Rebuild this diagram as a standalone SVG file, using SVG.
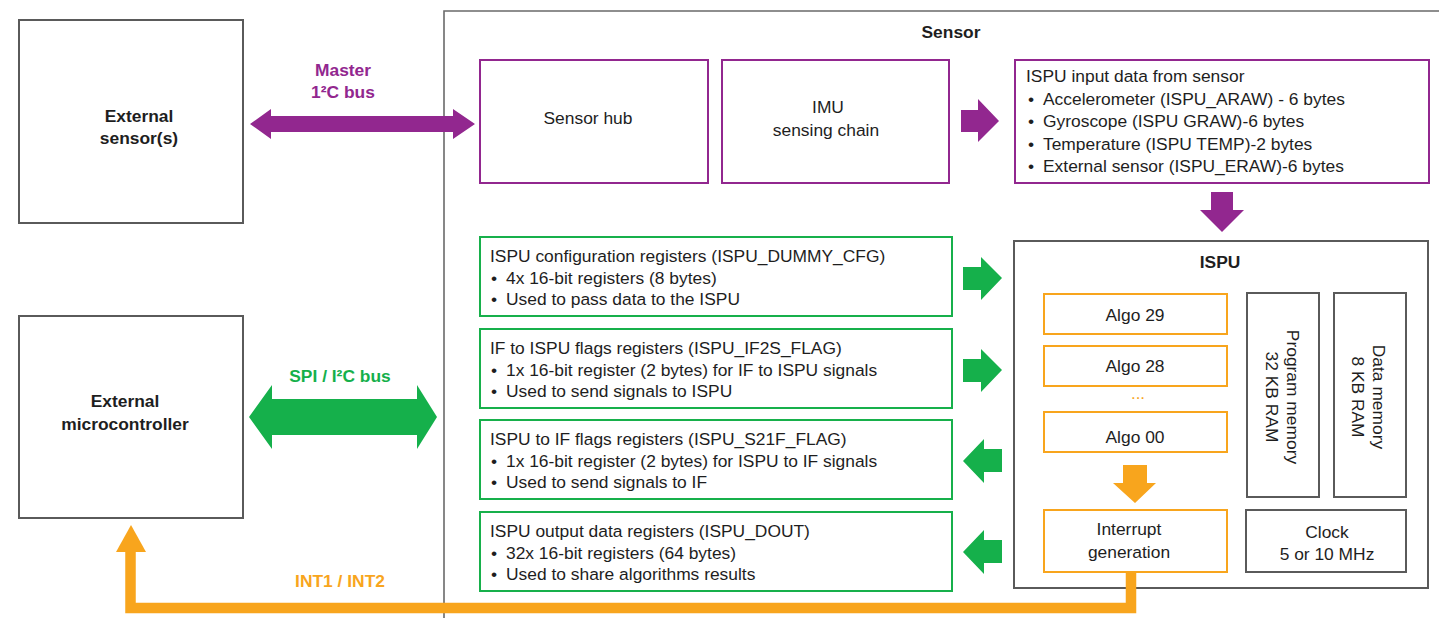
<svg xmlns="http://www.w3.org/2000/svg" width="1439" height="618" viewBox="0 0 1439 618">
  <style>
    text { font-family: "Liberation Sans", Arial, sans-serif; font-size: 17.4px; fill: #1e1e1e; }
    .b { font-weight: bold; }
    .c { text-anchor: middle; }
    .gray { fill: #ffffff; stroke: #5a5a5a; stroke-width: 2; }
    .pur { fill: #ffffff; stroke: #92278f; stroke-width: 2; }
    .grn { fill: #ffffff; stroke: #17b04b; stroke-width: 2; }
    .org { fill: #ffffff; stroke: #f8a51d; stroke-width: 2; }
    .fp { fill: #92278f; }
    .fg { fill: #15b04b; }
    .fo { fill: #f8a51d; }
  </style>

  <!-- Sensor package outline (open to the right and bottom) -->
  <g id="sensor">
    <path d="M444,618 V11 H1439" fill="none" stroke="#6a6a6a" stroke-width="1.6"/>
    <text class="b c" x="951" y="38">Sensor</text>
  </g>

  <g id="external-sensor">
    <rect class="gray" x="19" y="20" width="224" height="203"/>
    <text class="b c" x="139" y="122">External</text>
    <text class="b c" x="139" y="144">sensor(s)</text>
  </g>

  <g id="external-mcu">
    <rect class="gray" x="19" y="316" width="224" height="202"/>
    <text class="b c" x="125" y="407">External</text>
    <text class="b c" x="125" y="430">microcontroller</text>
  </g>

  <g id="sensor-hub">
    <rect class="pur" x="480" y="60" width="228" height="123"/>
    <text class="c" x="588" y="124">Sensor hub</text>
  </g>

  <g id="imu">
    <rect class="pur" x="722" y="60" width="227" height="123"/>
    <text class="c" x="828" y="113">IMU</text>
    <text class="c" x="826" y="136">sensing chain</text>
  </g>

  <g id="ispu-input">
    <rect class="pur" x="1015" y="60" width="414" height="123"/>
    <text x="1026" y="82">ISPU input data from sensor</text>
    <text x="1028" y="105">•</text><text x="1043" y="105">Accelerometer (ISPU_ARAW) - 6 bytes</text>
    <text x="1028" y="127">•</text><text x="1043" y="127">Gyroscope (ISPU GRAW)-6 bytes</text>
    <text x="1028" y="150">•</text><text x="1043" y="150">Temperature (ISPU TEMP)-2 bytes</text>
    <text x="1028" y="172">•</text><text x="1043" y="172">External sensor (ISPU_ERAW)-6 bytes</text>
  </g>

  <g id="cfg-regs">
    <rect class="grn" x="480" y="237" width="472" height="79"/>
    <text x="490" y="262">ISPU configuration registers (ISPU_DUMMY_CFG)</text>
    <text x="491" y="284">•</text><text x="506" y="284">4x 16-bit registers (8 bytes)</text>
    <text x="491" y="305">•</text><text x="506" y="305">Used to pass data to the ISPU</text>
  </g>

  <g id="if2s-regs">
    <rect class="grn" x="480" y="329" width="472" height="79"/>
    <text x="490" y="354">IF to ISPU flags registers (ISPU_IF2S_FLAG)</text>
    <text x="491" y="376">•</text><text x="506" y="376">1x 16-bit register (2 bytes) for IF to ISPU signals</text>
    <text x="491" y="397">•</text><text x="506" y="397">Used to send signals to ISPU</text>
  </g>

  <g id="s2if-regs">
    <rect class="grn" x="480" y="420" width="472" height="79"/>
    <text x="490" y="445">ISPU to IF flags registers (ISPU_S21F_FLAG)</text>
    <text x="491" y="467">•</text><text x="506" y="467">1x 16-bit register (2 bytes) for ISPU to IF signals</text>
    <text x="491" y="488">•</text><text x="506" y="488">Used to send signals to IF</text>
  </g>

  <g id="dout-regs">
    <rect class="grn" x="480" y="512" width="472" height="79"/>
    <text x="490" y="537">ISPU output data registers (ISPU_DOUT)</text>
    <text x="491" y="559">•</text><text x="506" y="559">32x 16-bit registers (64 bytes)</text>
    <text x="491" y="580">•</text><text x="506" y="580">Used to share algorithms results</text>
  </g>

  <g id="ispu">
    <rect class="gray" x="1014" y="241" width="414" height="347"/>
    <text class="b c" x="1220" y="268">ISPU</text>
  </g>

  <g id="algo-29">
    <rect class="org" x="1044" y="294" width="183" height="40"/>
    <text class="c" x="1135" y="321">Algo 29</text>
  </g>
  <g id="algo-28">
    <rect class="org" x="1044" y="346" width="183" height="40"/>
    <text class="c" x="1135" y="372">Algo 28</text>
  </g>
  <g id="algo-ellipsis">
    <text class="c" x="1138" y="399" style="fill:#f8a51d;font-size:17px">...</text>
  </g>
  <g id="algo-00">
    <rect class="org" x="1044" y="412" width="183" height="40"/>
    <text class="c" x="1135" y="443">Algo 00</text>
  </g>

  <g id="interrupt-gen">
    <rect class="org" x="1044" y="510" width="183" height="62"/>
    <text class="c" x="1129" y="535">Interrupt</text>
    <text class="c" x="1129" y="558">generation</text>
  </g>

  <g id="program-memory">
    <rect class="gray" x="1247" y="293" width="72" height="204"/>
    <g transform="translate(1283 397) rotate(90)">
      <text class="c" x="0" y="-4">Program memory</text>
      <text class="c" x="0" y="17">32 KB RAM</text>
    </g>
  </g>

  <g id="data-memory">
    <rect class="gray" x="1334" y="293" width="72" height="204"/>
    <g transform="translate(1370 397) rotate(90)">
      <text class="c" x="0" y="-3">Data memory</text>
      <text class="c" x="0" y="18">8 KB RAM</text>
    </g>
  </g>

  <g id="clock">
    <rect class="gray" x="1246" y="510" width="160" height="62"/>
    <text class="c" x="1327" y="538">Clock</text>
    <text class="c" x="1327" y="560">5 or 10 MHz</text>
  </g>

  <!-- Connectors: buses, block arrows and interrupt line -->
  <g id="connectors">
    <!-- Master I2C bus -->
    <polygon class="fp" points="250,124 271,109 271,116 453,116 453,109 475,124 453,139 453,132 271,132 271,139"/>
    <text class="b c" x="343" y="76" style="fill:#92278f">Master</text>
    <text class="b c" x="343" y="98" style="fill:#92278f">1²C bus</text>

    <!-- SPI / I2C bus -->
    <polygon class="fg" points="249,417 272,385 272,399 417,399 417,385 437,417 417,449 417,435 272,435 272,449"/>
    <text class="b c" x="340" y="382" style="fill:#15b04b">SPI / I²C bus</text>

    <!-- IMU to ISPU input data -->
    <polygon class="fp" points="961,110 978,110 978,99 999,121 978,142 978,132 961,132"/>
    <!-- ISPU input data down to ISPU -->
    <polygon class="fp" points="1211,192 1233,192 1233,210 1244,210 1222,232 1200,210 1211,210"/>

    <!-- Register arrows -->
    <polygon class="fg" points="963,267 981,267 981,257 1002,278 981,300 981,290 963,290"/>
    <polygon class="fg" points="963,359 981,359 981,349 1002,370 981,392 981,382 963,382"/>
    <polygon class="fg" points="963,461 984,439 984,449 1002,449 1002,472 984,472 984,483"/>
    <polygon class="fg" points="963,552 984,530 984,540 1002,540 1002,563 984,563 984,574"/>

    <!-- Algo to interrupt generation -->
    <polygon class="fo" points="1123,465 1147,465 1147,483 1156,483 1135,503 1113,483 1123,483"/>

    <!-- INT1 / INT2 line back to the microcontroller -->
    <polyline points="1131,572 1131,608 130.5,608 130.5,551" fill="none" stroke="#f8a51d" stroke-width="10.5"/>
    <polygon class="fo" points="116,552 146,552 131,525"/>
    <text class="b c" x="340" y="587" style="fill:#f8a51d">INT1 / INT2</text>
  </g>
</svg>
